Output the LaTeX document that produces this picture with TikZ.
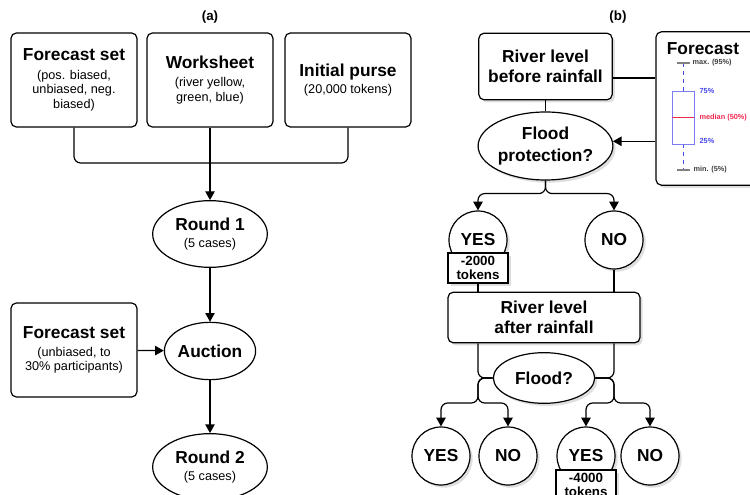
\documentclass[tikz,border=0pt]{standalone}
\usepackage{fontspec}
\setmainfont{Liberation Sans}
\usetikzlibrary{shapes,arrows,arrows.meta,calc,positioning,shadows}
\newcommand{\hdfont}{\fontsize{13}{15}\selectfont\bfseries}
\newcommand{\subfont}{\fontsize{9.5}{11}\selectfont}
\definecolor{bpblue}{RGB}{70,70,235}
\definecolor{bpred}{RGB}{240,40,80}

\begin{document}
\begin{tikzpicture}[
    x=0.75pt, y=-0.75pt,
    line width=0.9pt,
    >={Triangle[length=6.5pt, width=7pt]},
    every node/.style={font=\subfont},
    inbox/.style={rectangle, draw, rounded corners=4pt, align=center, minimum width=94.5pt, minimum height=70.5pt},
    stage/.style={ellipse, draw, align=center, inner sep=0pt},
    softshadow/.style={drop shadow={opacity=0.25, shadow xshift=2pt, shadow yshift=-2pt}},
    bbox/.style={rectangle, draw, fill=white, rounded corners=4pt, align=center, font=\hdfont, softshadow},
    ask/.style={ellipse, draw, fill=white, align=center, font=\hdfont, inner sep=0pt, softshadow},
    outcome/.style={circle, draw, fill=white, minimum size=43.5pt, inner sep=0pt, font=\hdfont, softshadow},
    cost/.style={rectangle, draw, fill=white, align=center, minimum width=45pt, minimum height=22.5pt, inner sep=1pt, font=\fontsize{10}{10.5}\selectfont\bfseries, softshadow},
    bplabel/.style={anchor=west, inner sep=0pt, font=\fontsize{5.5}{6}\selectfont\bfseries}
    ]
    \useasboundingbox (0,0) rectangle (750,495);
    % (a) game set-up
    \node (ta) at (210,17) {\bfseries\fontsize{10}{12}\selectfont (a)};
    \node[inbox] (fc1) at (74,80) {{\hdfont Forecast set}\\[3pt] (pos. biased,\\ unbiased, neg.\\ biased)};
    \node[inbox] (ws) at (210,80) {{\hdfont Worksheet}\\[3pt] (river yellow,\\ green, blue)};
    \node[inbox] (purse) at (348,80) {{\hdfont Initial purse}\\[1.5pt] (20,000 tokens)};
    \coordinate (join) at (210,163);
    \draw[rounded corners=5pt] (fc1.south) |- (join) -| (purse.south);
    % rounds
    \node[stage, minimum width=86pt, minimum height=50pt] (round1) at (210,234) {{\hdfont Round 1}\\[2pt] (5 cases)};
    \draw[->] (ws.south) -- (round1.north);
    \node[stage, minimum width=65pt, minimum height=43pt] (auction) at (210,351) {\hdfont Auction};
    \draw[->] (round1) -- (auction);
    \node[inbox] (fc2) at (74,350) {{\hdfont Forecast set}\\[2.5pt] (unbiased, to\\ 30\% participants)};
    \draw[->] (fc2) -- (auction);
    \node[stage, minimum width=86pt, minimum height=50pt] (round2) at (210,467) {{\hdfont Round 2}\\[2pt] (5 cases)};
    \draw[->] (auction) -- (round2);

    % (b) one case
    \node (tb) at (618,17) {\bfseries\fontsize{10}{12}\selectfont (b)};
    \node[bbox, minimum width=100pt, minimum height=50pt] (before) at (545.5,66.5) {River level\\before rainfall};
    \node[bbox, minimum width=81pt, minimum height=115pt] (forecast) at (710,108.5) {};
    \node[font=\hdfont, inner sep=1pt] (fctitle) at (703,49) {Forecast};
    % box plot
    \draw[bpblue, dashed, line width=0.6pt] (683,63) -- (683,91) (683,144) -- (683,170);
    \draw[gray, line width=0.8pt] (677,63) -- (690,63) (677,170) -- (690,170);
    \draw[bpblue!70, line width=0.6pt] (672,91) rectangle (694,144);
    \draw[bpred, line width=0.5pt] (672,117) -- (694,117);
    \node[bplabel, text=darkgray] (lmax) at (692,63) {max. (95\%)};
    \node[bplabel, text=bpblue] (lq3) at (699,91) {75\%};
    \node[bplabel, text=bpred] (lmed) at (699,118) {median (50\%)};
    \node[bplabel, text=bpblue] (lq1) at (699,141) {25\%};
    \node[bplabel, text=darkgray] (lmin) at (693,170) {min. (5\%)};
    % first decision
    \node[ask, minimum width=100pt, minimum height=51pt] (floodprot) at (545.5,146) {Flood\\[1.5pt]protection?};
    \draw (before.south) -- (floodprot.north);
    \path ([yshift=-8.6pt]before.east) coordinate (bx);
    \draw (bx) -- (bx -| forecast.west);
    \draw[->] (forecast.west |- floodprot.4) -- (floodprot.4);
    \node[outcome] (yes1) at (478,240) {YES};
    \node[outcome] (no1) at (614,240) {NO};
    \node[cost] (cost1) at (478,268) {-2000\\tokens};
    \draw[->, rounded corners=5pt] (floodprot.south) -- ++(0,13) -| (yes1.north);
    \draw[->, rounded corners=5pt] (floodprot.south) -- ++(0,13) -| (no1.north);
    % after rainfall
    \node[bbox, minimum width=144pt, minimum height=38pt] (after) at (544,317.5) {River level\\after rainfall};
    \draw (cost1.south) -- (cost1.south |- after.north);
    \draw (no1.south) -- (no1.south |- after.north);
    \node[ask, minimum width=76pt, minimum height=38pt] (flood) at (544,378) {Flood?};
    \coordinate (lsplit) at (yes1 |- 0,403);
    \coordinate (rsplit) at (no1 |- 0,403);
    \draw[rounded corners=5pt] (after.south -| yes1) |- (flood.west);
    \draw[rounded corners=5pt] (after.south -| no1) |- (flood.east);
    % outcomes
    \node[outcome] (yes2) at (441,456) {YES};
    \node[outcome] (no2) at (508,456) {NO};
    \node[outcome] (yes3) at (586,456) {YES};
    \node[outcome] (no3) at (650,456) {NO};
    \node[cost] (cost2) at (586,485) {-4000\\tokens};
    \draw[->, rounded corners=5pt] (flood.west) -| (lsplit) -| (yes2.north);
    \draw[->, rounded corners=5pt] (flood.west) -| (lsplit) -| (no2.north);
    \draw[->, rounded corners=5pt] (flood.east) -| (rsplit) -| (yes3.north);
    \draw[->, rounded corners=5pt] (flood.east) -| (rsplit) -| (no3.north);
\end{tikzpicture}
\end{document}
